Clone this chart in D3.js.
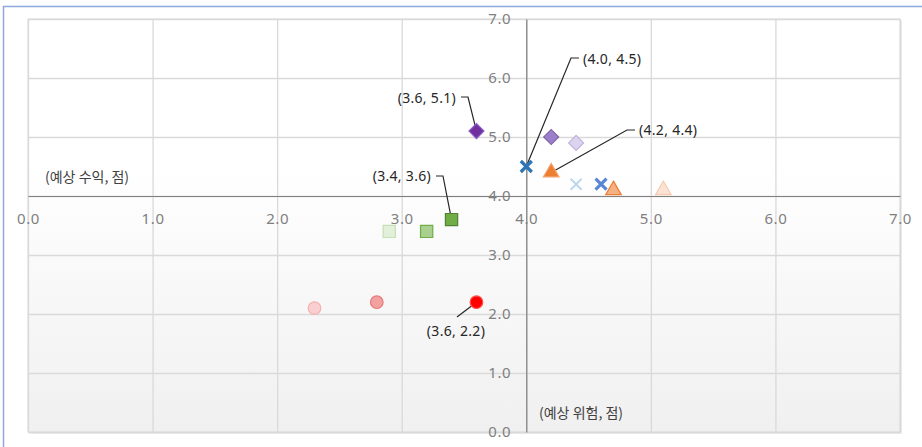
<!DOCTYPE html>
<html>
<head>
<meta charset="utf-8">
<script src="https://cdn.jsdelivr.net/npm/d3@7"></script>
<style>
  html, body { margin: 0; padding: 0; background: #ffffff; }
  svg { display: block; }
  text { font-family: "Noto Sans", "Noto Sans CJK KR", sans-serif; }
  .kr { font-family: "Noto Sans CJK KR", "Noto Sans", sans-serif; }
</style>
</head>
<body>
<svg id="chart" width="922" height="447"></svg>
<script>
// Expected risk (x) and expected return (y) for each group, ordered current → past
const diamondRisk = [3.6, 4.2, 4.4];
const diamondReturn = [5.1, 5.0, 4.9];
const crossRisk = [4.0, 4.6, 4.4];
const crossReturn = [4.5, 4.2, 4.2];
const triangleRisk = [4.2, 4.7, 5.1];
const triangleReturn = [4.4, 4.1, 4.1];
const squareRisk = [3.4, 3.2, 2.9];
const squareReturn = [3.6, 3.4, 3.4];
const circleRisk = [3.6, 2.8, 2.3];
const circleReturn = [2.2, 2.2, 2.1];

const tickValues = [0, 1, 2, 3, 4, 5, 6, 7];
const xTitle = "(예상 위험, 점)";
const yTitle = "(예상 수익, 점)";

const svg = d3.select("#chart");
const x = d3.scaleLinear().domain([0, 7]).range([28, 900]);
const y = d3.scaleLinear().domain([0, 7]).range([432, 19]);
const crossAt = 4;

// outer chart frame
svg.append("rect")
  .attr("x", 3.5).attr("y", 6.5).attr("width", 930).attr("height", 450)
  .attr("fill", "#ffffff").attr("stroke", "#8ea9db").attr("stroke-width", 1.5);

// plot area background with soft gradient and shadow
const defs = svg.append("defs");
const grad = defs.append("linearGradient").attr("id", "plotBg")
  .attr("x1", 0).attr("y1", 0).attr("x2", 0).attr("y2", 1);
grad.append("stop").attr("offset", "0%").attr("stop-color", "#ffffff");
grad.append("stop").attr("offset", "35%").attr("stop-color", "#ffffff");
grad.append("stop").attr("offset", "100%").attr("stop-color", "#f0f0f0");

svg.append("rect")
  .attr("x", x(0) + 2).attr("y", y(7) + 2)
  .attr("width", x(7) - x(0)).attr("height", y(0) - y(7))
  .attr("fill", "#ebebeb");
svg.append("rect")
  .attr("x", x(0)).attr("y", y(7))
  .attr("width", x(7) - x(0)).attr("height", y(0) - y(7))
  .attr("fill", "url(#plotBg)").attr("stroke", "#d9d9d9");

// gridlines
svg.append("g").attr("class", "grid-x")
  .attr("transform", `translate(0,${y(0)})`)
  .call(d3.axisBottom(x).tickValues(tickValues).tickSize(-(y(0) - y(7))).tickFormat(""))
  .call(g => g.select(".domain").remove())
  .call(g => g.selectAll("line").attr("stroke", "#d9d9d9").attr("stroke-width", 1.3));
svg.append("g").attr("class", "grid-y")
  .attr("transform", `translate(${x(0)},0)`)
  .call(d3.axisLeft(y).tickValues(tickValues).tickSize(-(x(7) - x(0))).tickFormat(""))
  .call(g => g.select(".domain").remove())
  .call(g => g.selectAll("line").attr("stroke", "#d9d9d9").attr("stroke-width", 1.3));

// axes crossing at (4, 4)
const fmt = d3.format(".1f");
svg.append("g").attr("class", "x-axis")
  .attr("transform", `translate(0,${y(crossAt)})`)
  .call(d3.axisBottom(x).tickValues(tickValues).tickSize(0).tickPadding(17).tickFormat(fmt))
  .call(g => g.select(".domain").attr("stroke", "#808080").attr("stroke-width", 1.2))
  .call(g => g.selectAll("text").attr("fill", "#7f7f7f").attr("font-size", 15)
    .attr("letter-spacing", 0.6).attr("font-family", "Noto Sans"));
svg.append("g").attr("class", "y-axis")
  .attr("transform", `translate(${x(crossAt)},0)`)
  .call(d3.axisLeft(y).tickValues(tickValues).tickSize(0).tickPadding(15).tickFormat(fmt))
  .call(g => g.select(".domain").attr("stroke", "#808080").attr("stroke-width", 1.2))
  .call(g => g.selectAll("text").attr("fill", "#7f7f7f").attr("font-size", 15)
    .attr("letter-spacing", 0.6).attr("font-family", "Noto Sans"));

// axis titles
svg.append("text").attr("class", "kr").attr("x", 45).attr("y", 182)
  .attr("font-size", 14).attr("fill", "#404040").text(yTitle);
svg.append("text").attr("class", "kr").attr("x", 539).attr("y", 418)
  .attr("font-size", 14).attr("fill", "#404040").text(xTitle);

// data label leader lines (drawn under the markers)
const leaders = [
  { pts: [[461, 97], [468, 97], [x(diamondRisk[0]), y(diamondReturn[0])]] },
  { pts: [[436, 176], [443, 176], [x(squareRisk[0]), y(squareReturn[0])]] },
  { pts: [[579, 58], [571, 58], [x(crossRisk[0]), y(crossReturn[0])]] },
  { pts: [[635, 130], [627, 130], [x(triangleRisk[0]), y(triangleReturn[0])]] },
  { pts: [[457, 317], [x(circleRisk[0]), y(circleReturn[0])]] }
];
svg.append("g").selectAll("path").data(leaders).join("path")
  .attr("d", d => d3.line()(d.pts))
  .attr("fill", "none").attr("stroke", "#262626").attr("stroke-width", 1.2);

// marker styles: current, one step back, two steps back
const groups = [
  { rx: diamondRisk, ry: diamondReturn, type: d3.symbolSquare, size: 112, rotate: 45,
    fill: ["#7030a0", "#9b7fcc", "#dcd4ef"], stroke: ["#8c5bbf", "#8064a2", "#c0b4de"] },
  { rx: squareRisk, ry: squareReturn, type: d3.symbolSquare, size: 150, rotate: 0,
    fill: ["#70ad47", "#a9d08e", "#e2efd9"], stroke: ["#548235", "#70ad47", "#c5e0b4"] },
  { rx: triangleRisk, ry: triangleReturn, type: d3.symbolTriangle, size: 105, rotate: 0,
    fill: ["#ed7d31", "#f4b183", "#fbe2d5"], stroke: ["#f4a26c", "#ed7d31", "#f8cbad"] },
  { rx: circleRisk, ry: circleReturn, type: d3.symbolCircle, size: 125, rotate: 0,
    fill: ["#ff0000", "#f2a0a0", "#f9cfcf"], stroke: ["#ff5050", "#e87a7a", "#f4b0b0"] }
];

const markers = svg.append("g").attr("class", "markers");
groups.forEach(gp => {
  gp.rx.forEach((v, i) => {
    markers.append("path")
      .attr("transform", `translate(${x(v)},${y(gp.ry[i])}) rotate(${gp.rotate})`)
      .attr("d", d3.symbol().type(gp.type).size(gp.size)())
      .attr("fill", gp.fill[i]).attr("stroke", gp.stroke[i]).attr("stroke-width", 1.2);
  });
});

// X-shaped markers
const crossColors = ["#2e75b6", "#5b86d6", "#bdd7ee"];
const crossWidths = [3.2, 3.2, 2];
crossRisk.forEach((v, i) => {
  const cx = x(v), cy = y(crossReturn[i]), r = 5.5;
  markers.append("path")
    .attr("d", `M${cx - r},${cy - r}L${cx + r},${cy + r}M${cx - r},${cy + r}L${cx + r},${cy - r}`)
    .attr("stroke", crossColors[i]).attr("stroke-width", crossWidths[i]).attr("fill", "none");
});

// data labels for the current values
const labels = [
  { text: `(${fmt(diamondRisk[0])}, ${fmt(diamondReturn[0])})`, x: 456, y: 103, anchor: "end" },
  { text: `(${fmt(squareRisk[0])}, ${fmt(squareReturn[0])})`, x: 431, y: 181, anchor: "end" },
  { text: `(${fmt(crossRisk[0])}, ${fmt(crossReturn[0])})`, x: 583, y: 64, anchor: "start" },
  { text: `(${fmt(triangleRisk[0])}, ${fmt(triangleReturn[0])})`, x: 639, y: 135, anchor: "start" },
  { text: `(${fmt(circleRisk[0])}, ${fmt(circleReturn[0])})`, x: 456, y: 336, anchor: "middle" }
];
svg.append("g").selectAll("text").data(labels).join("text")
  .attr("x", d => d.x).attr("y", d => d.y)
  .attr("text-anchor", d => d.anchor)
  .attr("font-size", 14).attr("letter-spacing", 0.3).attr("fill", "#262626")
  .text(d => d.text);
</script>
</body>
</html>
